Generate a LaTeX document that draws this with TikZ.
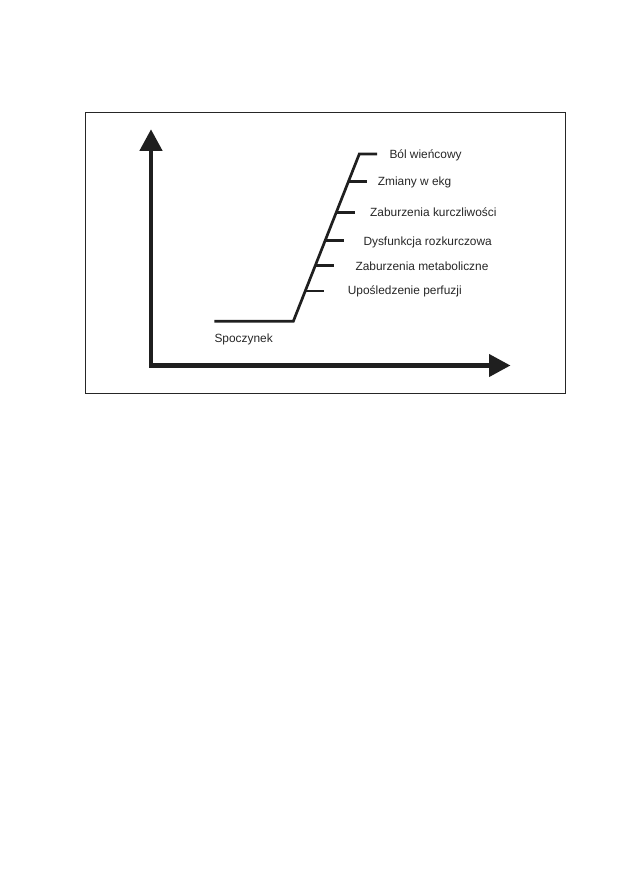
\documentclass[tikz,border=0pt]{standalone}
\usepackage{fontspec}
\setmainfont{Liberation Sans}
\usetikzlibrary{arrows.meta, calc}

\begin{document}
\begin{tikzpicture}[x=1pt, y=-1pt,
    axis/.style={{Triangle[length=21.5pt, width=22pt]}-{Triangle[length=21.5pt, width=22pt]},
      line width=4.2pt, black!88},
    curve/.style={line width=2.7pt, black!88},
    lbl/.style={anchor=base west, inner sep=0pt, font=\fontsize{11.9}{14}\selectfont, black!85}]
    \useasboundingbox (0,0) rectangle (630,893);
    \draw[line width=1pt, black!85] (85.7,112.3) rectangle (565.7,393.3);
    \coordinate (origin) at (151,365.5);
    \coordinate (ytip) at (151,129.3);
    \coordinate (xtip) at (510.5,365.5);
    \draw[axis] (ytip) -- (origin) -- (xtip);
    \coordinate (rest) at (214.3,321.3);
    \coordinate (knee) at (293.3,321.3);
    \coordinate (peak) at (359.3,154);
    \coordinate (peakend) at (377,154);
    \draw[curve] (rest) -- (knee) -- (peak) -- (peakend);
    \foreach \t/\n in {0.834/a, 0.649/b, 0.482/c, 0.332/d, 0.181/e} {
      \coordinate (mark\n) at ($(knee)!\t!(peak)$);
      \coordinate (markend\n) at ($(mark\n)+(18.5,0)$);
      \draw[curve] (mark\n) -- (markend\n);
    }
    \node[lbl] (bol) at (389.3,159) {Ból wieńcowy};
    \node[lbl] (ekg) at (377.7,186) {Zmiany w ekg};
    \node[lbl] (kurcz) at (370,216.7) {Zaburzenia kurczliwości};
    \node[lbl] (rozk) at (363.3,245) {Dysfunkcja rozkurczowa};
    \node[lbl] (metab) at (355.3,270.2) {Zaburzenia metaboliczne};
    \node[lbl] (perf) at (347.7,294.5) {Upośledzenie perfuzji};
    \node[lbl] (spocz) at (214.3,342.5) {Spoczynek};
  \end{tikzpicture}
\end{document}
